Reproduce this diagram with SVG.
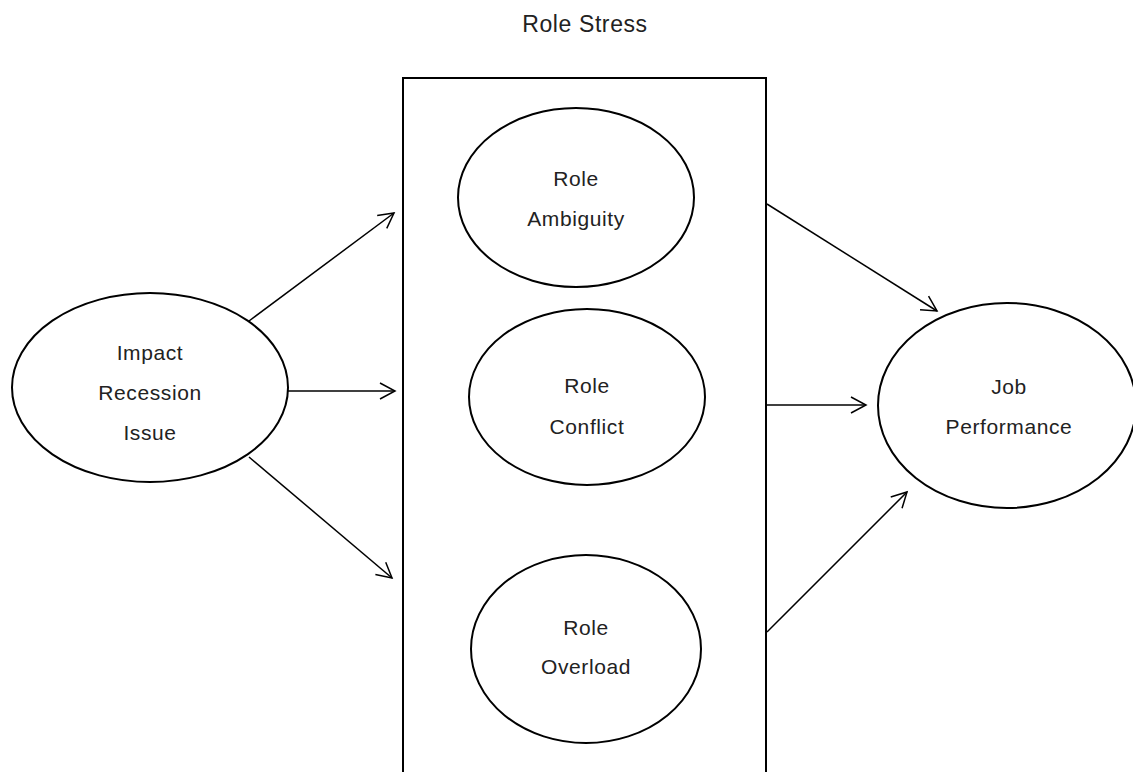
<svg xmlns="http://www.w3.org/2000/svg" width="1133" height="772" viewBox="0 0 1133 772">
<style>
.node{fill:#fff;stroke:#000;stroke-width:2}
.lbl{font-family:"Liberation Sans",Arial,sans-serif;font-size:21px;letter-spacing:0.6px;fill:#222;text-anchor:middle}
.ttl{font-size:23px}
.edge{stroke:#000;stroke-width:1.5;fill:none;marker-end:url(#arr)}
</style>
<defs>
<marker id="arr" markerUnits="userSpaceOnUse" markerWidth="20" markerHeight="20" viewBox="-16 -10 18 20" refX="0" refY="0" orient="auto">
<path d="M-15,-8 L0,0 L-15,8" fill="none" stroke="#000" stroke-width="1.5"/>
</marker>
</defs>
<rect width="1133" height="772" fill="#fff"/>
<g id="title"><text class="lbl ttl" x="585" y="32">Role Stress</text></g>
<g id="role-stress-box"><rect x="403" y="78" width="363" height="720" fill="none" stroke="#000" stroke-width="2"/></g>
<g id="connectors">
<line class="edge" x1="249" y1="321" x2="394" y2="213"/>
<line class="edge" x1="288" y1="391" x2="395" y2="391"/>
<line class="edge" x1="249" y1="457" x2="392" y2="578"/>
<line class="edge" x1="767" y1="204" x2="937" y2="311"/>
<line class="edge" x1="767" y1="405" x2="866" y2="405"/>
<line class="edge" x1="767" y1="632" x2="907" y2="492"/>
</g>
<g id="impact">
<ellipse class="node" cx="150" cy="387.5" rx="138" ry="94.5"/>
<text class="lbl" x="150" y="360">Impact</text>
<text class="lbl" x="150" y="400">Recession</text>
<text class="lbl" x="150" y="440">Issue</text>
</g>
<g id="ambiguity">
<ellipse class="node" cx="576" cy="197.5" rx="118" ry="89.5"/>
<text class="lbl" x="576" y="186">Role</text>
<text class="lbl" x="576" y="226">Ambiguity</text>
</g>
<g id="conflict">
<ellipse class="node" cx="587" cy="397" rx="118" ry="88"/>
<text class="lbl" x="587" y="393">Role</text>
<text class="lbl" x="587" y="434">Conflict</text>
</g>
<g id="overload">
<ellipse class="node" cx="586" cy="649" rx="115" ry="94"/>
<text class="lbl" x="586" y="635">Role</text>
<text class="lbl" x="586" y="674">Overload</text>
</g>
<g id="job">
<ellipse class="node" cx="1007" cy="405.5" rx="129" ry="102.5"/>
<text class="lbl" x="1009" y="394">Job</text>
<text class="lbl" x="1009" y="434">Performance</text>
</g>
</svg>
